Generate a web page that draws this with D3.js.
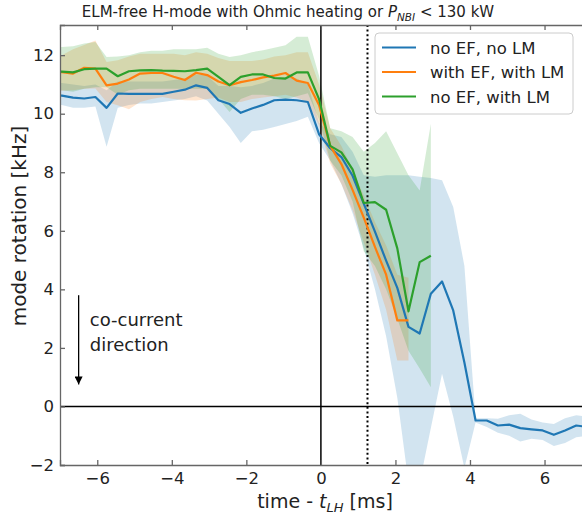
<!DOCTYPE html>
<html>
<head>
<meta charset="utf-8">
<script src="https://cdn.jsdelivr.net/npm/d3@7"></script>
<style>
  body { margin: 0; background: #fff; }
  text { font-family: "DejaVu Sans", sans-serif; fill: #222; }
</style>
</head>
<body>
<div id="chart"></div>
<script>
// time bins relative to t_LH [ms]
var time = [-7.25, -6.95, -6.65, -6.35, -6.05, -5.75, -5.45, -5.15, -4.85, -4.55,
  -4.25, -3.95, -3.65, -3.35, -3.05, -2.75, -2.45, -2.15, -1.85, -1.55,
  -1.25, -0.95, -0.65, -0.35, -0.05, 0.25, 0.55, 0.85, 1.15, 1.45,
  1.75, 2.05, 2.35, 2.65, 2.95, 3.25, 3.55, 3.85, 4.15, 4.45,
  4.75, 5.05, 5.35, 5.65, 5.95, 6.25, 6.55, 6.85, 7.15];

// no EF, no LM
var blueMean = [10.62, 10.62, 10.55, 10.52, 10.57, 10.2, 10.69, 10.68, 10.68, 10.68,
  10.68, 10.75, 10.82, 10.97, 10.88, 10.46, 10.33, 10.03, 10.18, 10.3,
  10.46, 10.48, 10.46, 10.4, 9.3, 8.82, 8.52, 7.88, 6.93, 5.97,
  4.98, 4.05, 2.72, 2.49, 3.85, 4.27, 3.28, 1.5, -0.48, -0.48,
  -0.65, -0.62, -0.74, -0.78, -0.82, -0.97, -0.82, -0.65, -0.7];
var blueLo = [10.3, 10.3, 10.2, 10.2, 10.25, 8.87, 10.2, 10.3, 10.35, 10.35,
  10.4, 10.45, 10.5, 10.6, 10.45, 10.0, 9.55, 9.0, 9.4, 9.45,
  9.55, 9.65, 9.75, 9.9, 9.0, 8.4, 7.6, 6.6, 5.4, 4.0,
  2.4, 0.3, -2.6, -2.6, -0.74, 1.12, -0.34, -2.1, -0.55, -0.7,
  -0.9, -1.0, -1.2, -1.1, -1.15, -1.35, -1.25, -1.05, -1.0];
var blueHi = [11.05, 11.05, 11.0, 10.95, 11.0, 10.8, 11.1, 11.1, 11.1, 11.1,
  11.1, 11.15, 11.2, 11.35, 11.3, 10.95, 10.95, 10.9, 10.95, 11.05,
  11.2, 11.25, 11.2, 11.0, 9.7, 9.3, 9.2, 8.7, 7.9, 7.85,
  7.9, 7.9, 7.9, 7.85, 7.8, 7.73, 6.81, 4.8, -0.4, -0.4,
  -0.42, -0.3, -0.25, -0.45, -0.55, -0.6, -0.4, -0.3, -0.35];

// with EF, with LM
var orangeMean = [11.43, 11.42, 11.37, 11.57, 11.54, 10.97, 11.03, 11.17, 11.37, 11.39,
  11.39, 11.26, 11.15, 11.4, 11.32, 11.1, 10.97, 11.08, 11.15, 11.24,
  11.3, 11.39, 11.13, 11.05, 10.3, 8.9, 8.28, 7.4, 6.45, 5.45,
  4.5, 2.94, 2.94];
var orangeLo = [10.75, 10.78, 10.8, 10.85, 10.86, 10.4, 10.29, 10.15, 10.4, 10.5,
  10.57, 10.5, 10.46, 10.45, 10.5, 10.55, 10.4, 10.4, 10.5, 10.55,
  10.6, 10.65, 10.55, 10.4, 9.6, 8.3, 7.6, 6.7, 5.6, 4.5,
  3.3, 1.57, 1.57];
var orangeHi = [12.0, 12.0, 12.2, 12.35, 12.5, 11.77, 11.83, 11.95, 12.05, 12.05,
  12.05, 12.05, 12.0, 12.1, 12.05, 11.9, 11.8, 11.8, 11.8, 11.85,
  11.95, 12.0, 12.1, 12.1, 11.0, 9.5, 8.9, 8.1, 7.2, 6.3,
  5.5, 4.5, 4.4];

// no EF, with LM
var greenMean = [11.44, 11.44, 11.41, 11.52, 11.54, 11.54, 11.28, 11.45, 11.48, 11.49,
  11.47, 11.46, 11.45, 11.49, 11.54, 11.26, 10.98, 11.26, 11.34, 11.34,
  11.22, 11.2, 11.41, 11.41, 10.5, 8.9, 8.68, 8.1, 6.95, 6.98,
  6.72, 5.4, 3.25, 4.93, 5.15];
var greenLo = [10.8, 10.8, 10.75, 10.85, 10.9, 10.9, 10.65, 10.8, 10.85, 10.85,
  10.85, 10.85, 10.85, 10.85, 10.85, 10.5, 10.06, 10.5, 10.65, 10.65,
  10.6, 10.5, 10.6, 10.7, 9.8, 8.4, 7.9, 7.0, 5.3, 4.8,
  4.0, 3.0, 1.9, 1.3, 0.66];
var greenHi = [12.25, 12.28, 12.3, 12.4, 12.45, 11.94, 11.95, 12.0, 12.1, 12.15,
  12.15, 12.2, 12.2, 12.2, 12.25, 12.05, 11.94, 12.0, 12.1, 12.17,
  12.25, 12.34, 12.63, 12.63, 11.3, 9.5, 9.4, 9.2, 8.7, 9.0,
  9.4, 8.65, 7.9, 7.38, 9.66];

var seriesNames = ["no EF, no LM", "with EF, with LM", "no EF, with LM"];
var seriesColors = ["#1f77b4", "#ff7f0e", "#2ca02c"];
var xTicks = [-6, -4, -2, 0, 2, 4, 6];
var yTicks = [-2, 0, 2, 4, 6, 8, 10, 12];
var tDotted = 1.25;

var svgWidth = 582, svgHeight = 518;
var margin = {top: 25, right: -8, bottom: 53, left: 60};
var width = svgWidth - margin.left - margin.right;
var height = svgHeight - margin.top - margin.bottom;

var svg = d3.select("#chart").append("svg")
  .attr("width", svgWidth)
  .attr("height", svgHeight);

svg.append("defs").append("clipPath").attr("id", "clip")
  .append("rect").attr("width", width).attr("height", height);

var chartGroup = svg.append("g")
  .attr("transform", `translate(${margin.left}, ${margin.top})`);

var x = d3.scaleLinear().domain([-7, 7.22]).range([0, width]);
var y = d3.scaleLinear().domain([-2, 13.03]).range([height, 0]);

var plot = chartGroup.append("g").attr("clip-path", "url(#clip)");

function buildRows(mean, lo, hi) {
  return mean.map((m, i) => ({t: time[i], m: m, lo: lo[i], hi: hi[i]}));
}
var series = [
  buildRows(blueMean, blueLo, blueHi),
  buildRows(orangeMean, orangeLo, orangeHi),
  buildRows(greenMean, greenLo, greenHi)
];

var area = d3.area().x(d => x(d.t)).y0(d => y(d.lo)).y1(d => y(d.hi));
var line = d3.line().x(d => x(d.t)).y(d => y(d.m));

series.forEach(function(rows, i) {
  plot.append("path").datum(rows)
    .attr("d", area)
    .attr("fill", seriesColors[i])
    .attr("fill-opacity", 0.2);
});

// reference lines
plot.append("line")
  .attr("x1", 0).attr("x2", width)
  .attr("y1", y(0)).attr("y2", y(0))
  .attr("stroke", "black").attr("stroke-width", 1.5);
plot.append("line")
  .attr("x1", x(0)).attr("x2", x(0))
  .attr("y1", 0).attr("y2", height)
  .attr("stroke", "black").attr("stroke-width", 1.5);
plot.append("line")
  .attr("x1", x(tDotted)).attr("x2", x(tDotted))
  .attr("y1", 0).attr("y2", height)
  .attr("stroke", "black").attr("stroke-width", 2)
  .attr("stroke-dasharray", "2,2.6");

series.forEach(function(rows, i) {
  plot.append("path").datum(rows)
    .attr("d", line)
    .attr("fill", "none")
    .attr("stroke", seriesColors[i])
    .attr("stroke-width", 2.2)
    .attr("stroke-linejoin", "round");
});

// axes, ticks pointing inward
var spine = "#666";
var bottomAxis = d3.axisBottom(x).tickValues(xTicks).tickSize(-5).tickPadding(7);
var topAxis = d3.axisTop(x).tickValues(xTicks).tickSize(-5).tickFormat("");
var leftAxis = d3.axisLeft(y).tickValues(yTicks).tickSize(-5).tickPadding(6);

var gx = chartGroup.append("g").attr("transform", `translate(0, ${height})`).call(bottomAxis);
var gt = chartGroup.append("g").call(topAxis);
var gy = chartGroup.append("g").call(leftAxis);
[gx, gt, gy].forEach(function(g) {
  g.select(".domain").attr("stroke", spine).attr("stroke-width", 1.3);
  g.selectAll(".tick line").attr("stroke", spine).attr("stroke-width", 1.3);
  g.selectAll(".tick text").style("font-size", "16.5px").attr("fill", "#222");
});

// title and axis labels
var title = svg.append("text")
  .attr("x", 288).attr("y", 17)
  .attr("text-anchor", "middle")
  .style("font-size", "15px");
title.append("tspan").text("ELM-free H-mode with Ohmic heating or ");
title.append("tspan").style("font-style", "italic").text("P");
title.append("tspan").style("font-style", "italic").style("font-size", "10.5px").attr("dy", 4).text("NBI");
title.append("tspan").attr("dy", -4).text(" < 130 kW");

var xlab = svg.append("text")
  .attr("x", 325).attr("y", 508)
  .attr("text-anchor", "middle")
  .style("font-size", "19px");
xlab.append("tspan").text("time - ");
xlab.append("tspan").style("font-style", "italic").text("t");
xlab.append("tspan").style("font-style", "italic").style("font-size", "13px").attr("dy", 4).text("LH");
xlab.append("tspan").attr("dy", -4).text(" [ms]");

svg.append("text")
  .attr("transform", "translate(26, 226) rotate(-90)")
  .attr("text-anchor", "middle")
  .style("font-size", "20px")
  .text("mode rotation [kHz]");

// co-current annotation
svg.append("defs").append("marker")
  .attr("id", "head").attr("viewBox", "0 0 10 10")
  .attr("refX", 10).attr("refY", 5)
  .attr("markerWidth", 8).attr("markerHeight", 8)
  .attr("markerUnits", "userSpaceOnUse")
  .attr("orient", "auto")
  .append("path").attr("d", "M0,0 L10,5 L0,10 z").attr("fill", "black");
chartGroup.append("line")
  .attr("x1", x(-6.5)).attr("x2", x(-6.5))
  .attr("y1", y(3.8)).attr("y2", y(0.75))
  .attr("stroke", "black").attr("stroke-width", 1.3)
  .attr("marker-end", "url(#head)");
chartGroup.append("text")
  .attr("x", x(-6.2)).attr("y", y(2.75))
  .style("font-size", "18px")
  .text("co-current");
chartGroup.append("text")
  .attr("x", x(-6.2)).attr("y", y(1.9))
  .style("font-size", "18px")
  .text("direction");

// legend
var legend = svg.append("g").attr("transform", "translate(375, 33)");
legend.append("rect")
  .attr("width", 198).attr("height", 81).attr("rx", 4)
  .attr("fill", "white").attr("fill-opacity", 0.8)
  .attr("stroke", "#ccc");
seriesNames.forEach(function(name, i) {
  var yy = 14.5 + i * 24.5;
  legend.append("line")
    .attr("x1", 7).attr("x2", 41).attr("y1", yy).attr("y2", yy)
    .attr("stroke", seriesColors[i]).attr("stroke-width", 2.2);
  legend.append("text")
    .attr("x", 55).attr("y", yy + 6)
    .style("font-size", "16.5px")
    .text(name);
});
</script>
</body>
</html>
